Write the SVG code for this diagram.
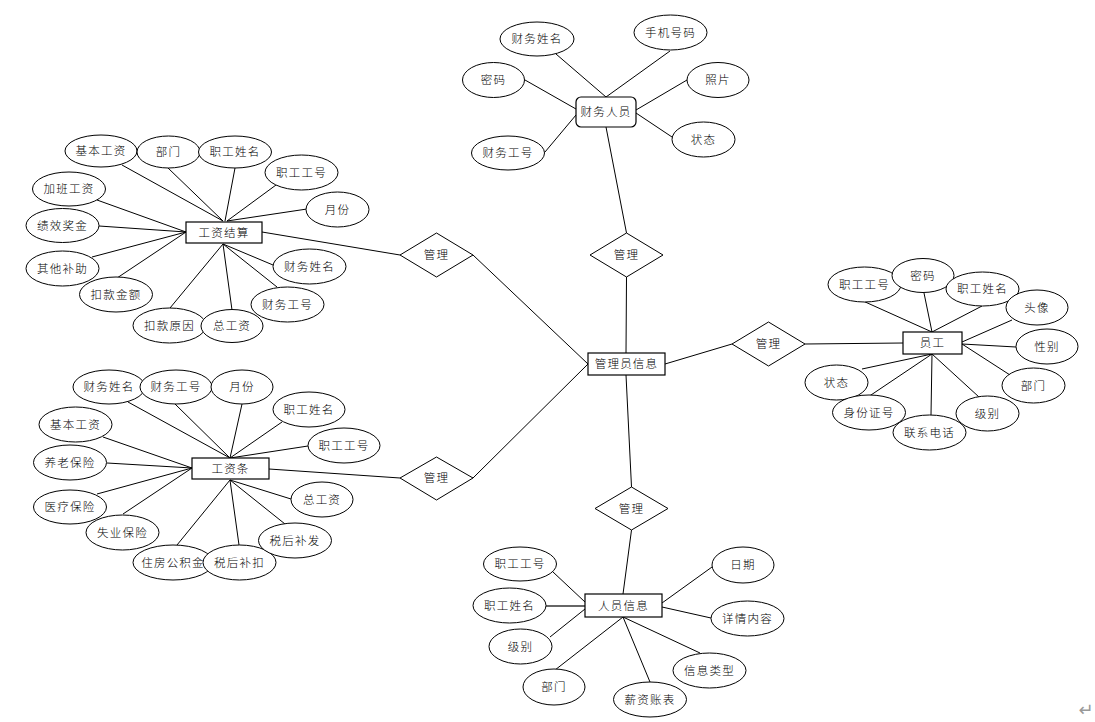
<svg xmlns="http://www.w3.org/2000/svg" width="1095" height="722" viewBox="0 0 1095 722">
<style>
.c line, .c polyline{stroke:#000;stroke-width:1;fill:none}
.e{fill:#fff;stroke:#000;stroke-width:1}
.r{fill:#fff;stroke:#000;stroke-width:1.2}
.d{fill:#fff;stroke:#000;stroke-width:1}
text{font-family:"Noto Sans CJK SC","Noto Sans",sans-serif;font-size:11.5px;font-weight:300;letter-spacing:1.2px;text-anchor:middle;fill:#000}
</style>
<rect x="0" y="0" width="1095" height="722" fill="#fff"/>
<g id="connectors" class="c">
<line x1="626" y1="353" x2="626.5" y2="277"/>
<line x1="626.5" y1="233" x2="606" y2="127"/>
<line x1="473" y1="255" x2="588" y2="364"/>
<line x1="400" y1="255" x2="262" y2="232"/>
<line x1="473" y1="478" x2="588" y2="364"/>
<line x1="400" y1="478" x2="269" y2="469"/>
<line x1="665" y1="364" x2="732" y2="344"/>
<line x1="805" y1="344" x2="903" y2="343"/>
<line x1="626" y1="375" x2="631.5" y2="487"/>
<line x1="631.5" y1="530" x2="623" y2="594"/>
<line x1="556" y1="54" x2="606" y2="97"/>
<line x1="670" y1="51" x2="606" y2="97"/>
<line x1="525" y1="80" x2="576" y2="109"/>
<line x1="687" y1="80" x2="636" y2="110"/>
<line x1="545" y1="152" x2="576" y2="115"/>
<line x1="672" y1="137" x2="636" y2="113"/>
<line x1="122" y1="165" x2="223" y2="221"/>
<line x1="168" y1="168" x2="223" y2="221"/>
<line x1="235" y1="168" x2="225" y2="221"/>
<line x1="276" y1="185" x2="227" y2="221"/>
<line x1="307" y1="209" x2="227" y2="221"/>
<line x1="97" y1="200" x2="186" y2="232"/>
<line x1="99" y1="226" x2="186" y2="232"/>
<line x1="92" y1="257" x2="186" y2="232"/>
<line x1="117" y1="278" x2="186" y2="232"/>
<line x1="170" y1="308" x2="223" y2="244"/>
<line x1="232" y1="310" x2="223" y2="244"/>
<line x1="273" y1="265" x2="223" y2="244"/>
<line x1="277" y1="287" x2="223" y2="244"/>
<line x1="128" y1="402" x2="230" y2="458"/>
<line x1="175" y1="404" x2="230" y2="458"/>
<line x1="242" y1="404" x2="230" y2="458"/>
<line x1="282" y1="422" x2="230" y2="458"/>
<line x1="308" y1="446" x2="230" y2="458"/>
<line x1="103" y1="437" x2="192" y2="468"/>
<line x1="107" y1="463" x2="192" y2="468"/>
<line x1="97" y1="494" x2="192" y2="468"/>
<line x1="123" y1="514" x2="192" y2="468"/>
<line x1="177" y1="545" x2="230" y2="480"/>
<line x1="239" y1="545" x2="230" y2="480"/>
<line x1="285" y1="524" x2="230" y2="480"/>
<line x1="291" y1="499" x2="230" y2="480"/>
<line x1="863" y1="301" x2="932" y2="332"/>
<line x1="924" y1="293" x2="932" y2="332"/>
<line x1="982" y1="306" x2="932" y2="332"/>
<line x1="1012" y1="320" x2="962" y2="342"/>
<line x1="1016" y1="347" x2="962" y2="344"/>
<line x1="1010" y1="375" x2="962" y2="344"/>
<line x1="979" y1="397" x2="932" y2="354"/>
<line x1="931" y1="415" x2="932" y2="354"/>
<line x1="868" y1="397" x2="932" y2="354"/>
<line x1="862" y1="369" x2="932" y2="354"/>
<line x1="553" y1="572" x2="585" y2="602"/>
<line x1="546" y1="606" x2="585" y2="606" style="stroke-width:1.5;stroke:#333"/>
<line x1="550" y1="637" x2="585" y2="609"/>
<line x1="555" y1="670" x2="623" y2="617"/>
<line x1="650" y1="682" x2="623" y2="617"/>
<line x1="700" y1="653" x2="623" y2="617"/>
<line x1="712" y1="567" x2="662" y2="603"/>
<line x1="711" y1="618" x2="662" y2="607"/>
</g>

<g id="rel-top"><polygon class="d" points="626.5,233 663,255 626.5,277 590,255"/><text x="626.5" y="259">管理</text></g>
<g id="rel-left1"><polygon class="d" points="436.5,233 473,255 436.5,277 400,255"/><text x="436.5" y="259">管理</text></g>
<g id="rel-left2"><polygon class="d" points="436.5,457 473,478 436.5,500 400,478"/><text x="436.5" y="482">管理</text></g>
<g id="rel-right"><polygon class="d" points="768.5,322 805,344 768.5,366 732,344"/><text x="768.5" y="348">管理</text></g>
<g id="rel-bottom"><polygon class="d" points="631.5,487 668,508.5 631.5,530 595,508.5"/><text x="631.5" y="512.5">管理</text></g>

<g id="admin"><rect class="r" x="588" y="353" width="77" height="22"/><text x="626.5" y="368">管理员信息</text></g>
<g id="finance"><rect class="r" x="576" y="97" width="60" height="30" rx="5"/><text x="606" y="116">财务人员</text></g>
<g id="settle"><rect class="r" x="186" y="222" width="76" height="21"/><text x="224" y="236.5">工资结算</text></g>
<g id="slip"><rect class="r" x="192" y="458" width="77" height="21"/><text x="230.5" y="472.5">工资条</text></g>
<g id="staff"><rect class="r" x="903" y="332" width="59" height="22"/><text x="932.5" y="347">员工</text></g>
<g id="info"><rect class="r" x="585" y="594" width="77" height="23"/><text x="623.5" y="609.5">人员信息</text></g>

<g id="f1"><ellipse class="e" cx="537" cy="39" rx="37" ry="17"/><text x="537" y="43">财务姓名</text></g>
<g id="f2"><ellipse class="e" cx="670.5" cy="32.5" rx="36.5" ry="17.5"/><text x="670.5" y="36.5">手机号码</text></g>
<g id="f3"><ellipse class="e" cx="493.5" cy="80" rx="31" ry="17.5"/><text x="493.5" y="84">密码</text></g>
<g id="f4"><ellipse class="e" cx="718" cy="80" rx="31" ry="17.5"/><text x="718" y="84">照片</text></g>
<g id="f5"><ellipse class="e" cx="508" cy="153" rx="36.5" ry="17"/><text x="508" y="157">财务工号</text></g>
<g id="f6"><ellipse class="e" cx="703.5" cy="139.5" rx="31.5" ry="17.5"/><text x="703.5" y="143.5">状态</text></g>

<g id="s1"><ellipse class="e" cx="101" cy="151" rx="36" ry="16"/><text x="101" y="155">基本工资</text></g>
<g id="s2"><ellipse class="e" cx="168.5" cy="152" rx="31.5" ry="16"/><text x="168.5" y="156">部门</text></g>
<g id="s3"><ellipse class="e" cx="235" cy="152" rx="36.5" ry="16"/><text x="235" y="156">职工姓名</text></g>
<g id="s4"><ellipse class="e" cx="301.5" cy="172.5" rx="36.5" ry="17.5"/><text x="301.5" y="176.5">职工工号</text></g>
<g id="s5"><ellipse class="e" cx="337.5" cy="209.5" rx="31.5" ry="17.5"/><text x="337.5" y="213.5">月份</text></g>
<g id="s6"><ellipse class="e" cx="69" cy="189" rx="36.5" ry="17"/><text x="69" y="193">加班工资</text></g>
<g id="s7"><ellipse class="e" cx="62.5" cy="225.5" rx="36.5" ry="17"/><text x="62.5" y="229.5">绩效奖金</text></g>
<g id="s8"><ellipse class="e" cx="62.5" cy="268.5" rx="36.5" ry="17.5"/><text x="62.5" y="272.5">其他补助</text></g>
<g id="s9"><ellipse class="e" cx="116" cy="294.5" rx="36.5" ry="17.5"/><text x="116" y="298.5">扣款金额</text></g>
<g id="s10"><ellipse class="e" cx="169.5" cy="325.5" rx="36.5" ry="17.5"/><text x="169.5" y="329.5">扣款原因</text></g>
<g id="s11"><ellipse class="e" cx="232" cy="326" rx="31" ry="16.5"/><text x="232" y="330">总工资</text></g>
<g id="s12"><ellipse class="e" cx="309.5" cy="266.5" rx="36.5" ry="17.5"/><text x="309.5" y="270.5">财务姓名</text></g>
<g id="s13"><ellipse class="e" cx="287.5" cy="304.5" rx="36.5" ry="17.5"/><text x="287.5" y="308.5">财务工号</text></g>

<g id="p1"><ellipse class="e" cx="109" cy="387" rx="36" ry="17"/><text x="109" y="391">财务姓名</text></g>
<g id="p2"><ellipse class="e" cx="176" cy="387" rx="36" ry="17"/><text x="176" y="391">财务工号</text></g>
<g id="p3"><ellipse class="e" cx="242" cy="387" rx="31" ry="17"/><text x="242" y="391">月份</text></g>
<g id="p4"><ellipse class="e" cx="309" cy="409.5" rx="36" ry="17.5"/><text x="309" y="413.5">职工姓名</text></g>
<g id="p5"><ellipse class="e" cx="344" cy="445.5" rx="36" ry="17.5"/><text x="344" y="449.5">职工工号</text></g>
<g id="p6"><ellipse class="e" cx="75.5" cy="424.5" rx="36.5" ry="17.5"/><text x="75.5" y="428.5">基本工资</text></g>
<g id="p7"><ellipse class="e" cx="70" cy="462.5" rx="36.5" ry="17.5"/><text x="70" y="466.5">养老保险</text></g>
<g id="p8"><ellipse class="e" cx="70" cy="507" rx="36.5" ry="17"/><text x="70" y="511">医疗保险</text></g>
<g id="p9"><ellipse class="e" cx="122.5" cy="532.5" rx="36.5" ry="17.5"/><text x="122.5" y="536.5">失业保险</text></g>
<g id="p10"><ellipse class="e" cx="173" cy="562.5" rx="40" ry="17.5"/><text x="173" y="566.5">住房公积金</text></g>
<g id="p11"><ellipse class="e" cx="239.5" cy="562.5" rx="36.5" ry="17.5"/><text x="239.5" y="566.5">税后补扣</text></g>
<g id="p12"><ellipse class="e" cx="295" cy="540.5" rx="36.5" ry="17.5"/><text x="295" y="544.5">税后补发</text></g>
<g id="p13"><ellipse class="e" cx="322" cy="499.5" rx="31" ry="17.5"/><text x="322" y="503.5">总工资</text></g>

<g id="y1"><ellipse class="e" cx="864.5" cy="284.5" rx="36.5" ry="17.5"/><text x="864.5" y="288.5">职工工号</text></g>
<g id="y2"><ellipse class="e" cx="923" cy="275.5" rx="31" ry="17"/><text x="923" y="279.5">密码</text></g>
<g id="y3"><ellipse class="e" cx="982.5" cy="289" rx="36.5" ry="17"/><text x="982.5" y="293">职工姓名</text></g>
<g id="y4"><ellipse class="e" cx="1037" cy="307.5" rx="31" ry="17.5"/><text x="1037" y="311.5">头像</text></g>
<g id="y5"><ellipse class="e" cx="1047" cy="346.5" rx="31" ry="17.5"/><text x="1047" y="350.5">性别</text></g>
<g id="y6"><ellipse class="e" cx="1033.5" cy="385.5" rx="31.5" ry="17.5"/><text x="1033.5" y="389.5">部门</text></g>
<g id="y7"><ellipse class="e" cx="987.5" cy="413.5" rx="31.5" ry="17.5"/><text x="987.5" y="417.5">级别</text></g>
<g id="y10"><ellipse class="e" cx="836.5" cy="382.5" rx="31.5" ry="17.5"/><text x="836.5" y="386.5">状态</text></g>
<g id="y9"><ellipse class="e" cx="869" cy="412.5" rx="36.5" ry="17.5"/><text x="869" y="416.5">身份证号</text></g>
<g id="y8"><ellipse class="e" cx="929.5" cy="432.5" rx="36.5" ry="17.5"/><text x="929.5" y="436.5">联系电话</text></g>

<g id="i1"><ellipse class="e" cx="520" cy="564" rx="36.5" ry="17"/><text x="520" y="568">职工工号</text></g>
<g id="i2"><ellipse class="e" cx="509.5" cy="605.5" rx="36.5" ry="17.5"/><text x="509.5" y="609.5">职工姓名</text></g>
<g id="i3"><ellipse class="e" cx="520.5" cy="646.5" rx="31.5" ry="17.5"/><text x="520.5" y="650.5">级别</text></g>
<g id="i4"><ellipse class="e" cx="554" cy="687" rx="31" ry="18"/><text x="554" y="691">部门</text></g>
<g id="i5"><ellipse class="e" cx="650" cy="699.5" rx="36.5" ry="17.5"/><text x="650" y="703.5">薪资账表</text></g>
<g id="i6"><ellipse class="e" cx="709.5" cy="670.5" rx="36.5" ry="17.5"/><text x="709.5" y="674.5">信息类型</text></g>
<g id="i7"><ellipse class="e" cx="747.5" cy="618.5" rx="36.5" ry="17.5"/><text x="747.5" y="622.5">详情内容</text></g>
<g id="i8"><ellipse class="e" cx="743" cy="565" rx="31" ry="18"/><text x="743" y="569">日期</text></g>

<text x="1086" y="716" style="font-size:18px;font-weight:400;fill:#999;font-family:'DejaVu Sans',sans-serif;letter-spacing:0">↵</text>
</svg>
